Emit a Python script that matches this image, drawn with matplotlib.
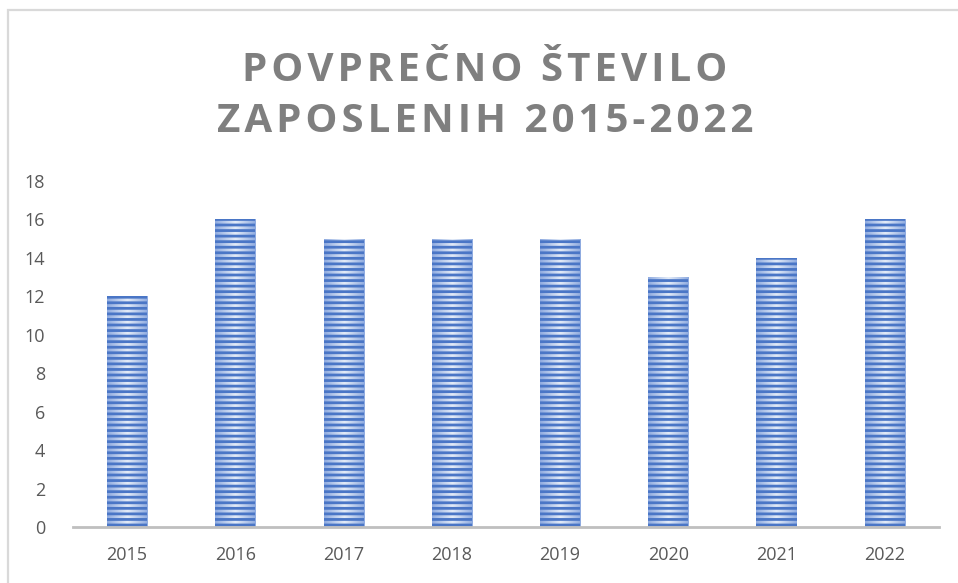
import matplotlib
matplotlib.use('Agg')
import matplotlib.pyplot as plt
import numpy as np
from matplotlib.patches import Rectangle
from matplotlib.colors import LinearSegmentedColormap

years = ['2015', '2016', '2017', '2018', '2019', '2020', '2021', '2022']
employees = [12, 16, 15, 15, 15, 13, 14, 16]
y_ticks = [0, 2, 4, 6, 8, 10, 12, 14, 16, 18]
title_lines = ['POVPREČNO ŠTEVILO', 'ZAPOSLENIH 2015-2022']

plt.rcParams['font.family'] = ['Open Sans', 'DejaVu Sans']
plt.rcParams['hatch.linewidth'] = 2.0

fig = plt.figure(figsize=(9.58, 5.83), dpi=100)
ax = fig.add_axes([0.0762, 0.096, 0.9038, 0.5935])

x = range(len(years))
bars = ax.bar(x, employees, width=0.37, color='none', hatch='---',
              edgecolor='#4a76c6', linewidth=0, zorder=3)

# light-in-the-middle gradient under the stripes
cmap = LinearSegmentedColormap.from_list('bar', ['#8fabe0', '#e4ecf8', '#8fabe0'])
grad = np.linspace(0, 1, 64).reshape(1, -1)
for b in bars:
    x0, w, h = b.get_x(), b.get_width(), b.get_height()
    im = ax.imshow(grad, cmap=cmap, aspect='auto', extent=(x0, x0 + w, 0, h),
                   interpolation='bilinear', zorder=2)
    im.set_clip_path(b)

ax.set_xlim(-0.5, len(years) - 0.5)
ax.set_ylim(0, 18)
ax.set_yticks(y_ticks)
ax.set_xticks(list(x))
ax.set_xticklabels(years)
ax.tick_params(axis='both', length=0, labelsize=13, labelcolor='#595959')
ax.tick_params(axis='y', pad=20)
ax.tick_params(axis='x', pad=14)
for side in ['top', 'right', 'left']:
    ax.spines[side].set_visible(False)
ax.spines['bottom'].set_color('#bfbfbf')
ax.spines['bottom'].set_linewidth(2)
ax.spines['bottom'].set_zorder(4)

# widen letter spacing like the Excel title
spaced = '\n'.join('\u200a'.join(line) for line in title_lines)
fig.text(0.506, 0.835, spaced, ha='center', va='center', fontsize=29,
         fontweight='bold', color='#7f7f7f', linespacing=1.38)

# chart frame (left and top edges visible)
fig.add_artist(Rectangle((0.0083, -0.05), 1.1, 1.032, transform=fig.transFigure,
                         fill=False, edgecolor='#d9d9d9', linewidth=1.6))

plt.savefig('out.png', dpi=100)
plt.close()
